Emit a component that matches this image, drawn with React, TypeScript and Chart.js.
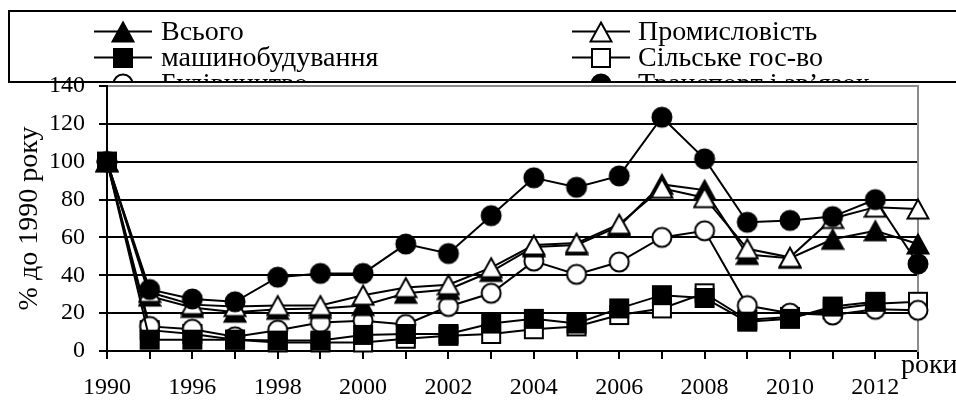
import React, { useEffect, useRef } from 'react';
import { Chart, registerables } from 'chart.js';

Chart.register(...registerables);

const years = ['1990', '1995', '1996', '1997', '1998', '1999', '2000', '2001', '2002', '2003', '2004', '2005', '2006', '2007', '2008', '2009', '2010', '2011', '2012', '2013'];
const vsogo = [100, 29, 23, 20.5, 22, 22.5, 24, 30.5, 32.5, 42, 55, 56, 66, 88, 85, 51, 49, 59, 63.5, 56.5];
const promyslovist = [100, 31, 24.5, 23.5, 24, 24, 29.5, 33.5, 35, 44, 56, 57, 67, 86, 81, 54, 49.5, 70, 76, 75];
const mashynobuduvannia = [100, 6, 6, 6, 5.5, 5.5, 8.5, 9, 9, 14.5, 17, 14.5, 22.5, 29.5, 28, 15.5, 17, 23.5, 26, null];
const silske = [100, 11, 9, 6, 4.5, 4.5, 4.5, 6.5, 8, 9, 11.5, 13, 19, 22.5, 30.5, 16.5, 18, 22, 25, 26];
const budivnytstvo = [100, 13, 11.5, 7.5, 11, 15, 16, 14, 23.5, 30.5, 47.5, 40.5, 47, 60, 63.5, 24, 20, 19, 22, 21.5];
const transport = [100, 32.5, 27.5, 26, 39, 41, 41, 56.5, 51.5, 71.5, 91.5, 86.5, 92.5, 123.5, 101.5, 68, 69, 71, 80, 46];

const seriesLabels = ['Всього', 'Промисловість', 'машинобудування', 'Сільське гос-во', 'Будівництво', 'Транспорт і зв’язок'];
const yAxisTitle = '% до 1990 року';
const xAxisTitle = 'роки';

const FONT = "'Liberation Serif', 'Times New Roman', serif";

function makeMarker(shape: string, filled: boolean): HTMLCanvasElement {
  const c = document.createElement('canvas');
  c.width = 24;
  c.height = 24;
  const g = c.getContext('2d')!;
  g.lineWidth = 2;
  g.lineJoin = 'miter';
  g.strokeStyle = '#000';
  g.fillStyle = filled ? '#000' : '#fff';
  g.beginPath();
  if (shape === 'triangle') {
    g.moveTo(12, 2.5);
    g.lineTo(22.5, 21.5);
    g.lineTo(1.5, 21.5);
    g.closePath();
  } else if (shape === 'square') {
    g.rect(3, 3, 18, 18);
  } else {
    g.arc(12, 12, 9.5, 0, Math.PI * 2);
  }
  g.fill();
  g.stroke();
  return c;
}

const legendPlugin = {
  id: 'boxLegend',
  beforeDraw(chart: any) {
    const ctx = chart.ctx;
    ctx.save();
    ctx.lineWidth = 2;
    ctx.strokeStyle = '#000';
    ctx.strokeRect(9, 11, 1000, 71);
    ctx.beginPath();
    ctx.rect(10, 12, 946, 69);
    ctx.clip();
    ctx.font = `28px ${FONT}`;
    ctx.fillStyle = '#000';
    ctx.textBaseline = 'alphabetic';
    ctx.textAlign = 'left';
    chart.data.datasets.forEach((ds: any, i: number) => {
      const col = i % 2;
      const row = Math.floor(i / 2);
      const mx = col ? 601 : 123;
      const baseline = 39.5 + row * 26;
      const my = baseline - 8;
      ctx.beginPath();
      ctx.lineWidth = 2;
      ctx.moveTo(mx - 29, my);
      ctx.lineTo(mx + 29, my);
      ctx.stroke();
      const img = ds.pointStyle as HTMLCanvasElement;
      ctx.drawImage(img, Math.round(mx - img.width / 2), Math.round(my - img.height / 2));
      ctx.fillText(ds.label, col ? 638 : 161, baseline);
    });
    ctx.restore();
  },
  afterDraw(chart: any) {
    const ctx = chart.ctx;
    const a = chart.chartArea;
    ctx.save();
    ctx.font = `28px ${FONT}`;
    ctx.fillStyle = '#000';
    ctx.textAlign = 'left';
    ctx.textBaseline = 'alphabetic';
    ctx.fillText(xAxisTitle, a.right - 17, a.bottom + 22);
    ctx.restore();
  },
};

export default function App() {
  const ref = useRef<HTMLCanvasElement | null>(null);

  useEffect(() => {
    document.body.style.margin = '0';
    document.body.style.overflow = 'hidden';
    if (!ref.current) return;

    const triF = makeMarker('triangle', true);
    const triO = makeMarker('triangle', false);
    const sqF = makeMarker('square', true);
    const sqO = makeMarker('square', false);
    const ciO = makeMarker('circle', false);
    const ciF = makeMarker('circle', true);

    const mk = (label: string, data: any[], style: HTMLCanvasElement, order: number) => ({
      label,
      data,
      pointStyle: style,
      pointRadius: 10,
      borderColor: '#000',
      borderWidth: 2,
      backgroundColor: '#000',
      tension: 0,
      clip: false as any,
      order,
    });

    const chart = new Chart(ref.current, {
      type: 'line',
      data: {
        labels: years,
        datasets: [
          mk(seriesLabels[0], vsogo, triF, 3),
          mk(seriesLabels[1], promyslovist, triO, 2),
          mk(seriesLabels[2], mashynobuduvannia, sqF, 0),
          mk(seriesLabels[3], silske, sqO, 5),
          mk(seriesLabels[4], budivnytstvo, ciO, 4),
          mk(seriesLabels[5], transport, ciF, 1),
        ],
      },
      options: {
        responsive: false,
        animation: false,
        events: [],
        layout: { padding: { top: 86, right: 38, left: 0, bottom: 0 } },
        font: { family: FONT, size: 24 } as any,
        plugins: {
          legend: { display: false },
          tooltip: { enabled: false },
          title: { display: false },
        },
        scales: {
          x: {
            type: 'category',
            offset: false,
            grid: {
              display: true,
              drawOnChartArea: false,
              drawTicks: true,
              tickLength: 8,
              color: '#000',
              lineWidth: 2,
            },
            border: { display: true, color: '#000', width: 2 },
            ticks: {
              autoSkip: false,
              maxRotation: 0,
              minRotation: 0,
              padding: 14.5,
              color: '#000',
              font: { family: FONT, size: 24 },
              callback: (_v: any, i: number) => (i % 2 === 0 && i < years.length - 1 ? years[i] : ''),
            },
            afterFit: (s: any) => {
              s.height = 50;
            },
          },
          y: {
            position: 'left',
            min: 0,
            max: 140,
            ticks: {
              stepSize: 20,
              padding: 14,
              color: '#000',
              font: { family: FONT, size: 24 },
            },
            grid: {
              display: true,
              drawOnChartArea: true,
              drawTicks: true,
              tickLength: 8,
              lineWidth: 2,
              color: (c: any) => (c.tick && c.tick.value === 140 ? '#8c8c8c' : '#000'),
              tickColor: '#000',
            },
            border: { display: true, color: '#000', width: 2 },
            title: {
              display: true,
              text: yAxisTitle,
              color: '#000',
              font: { family: FONT, size: 28 },
              padding: { top: 13, bottom: 0 },
            },
            afterFit: (s: any) => {
              s.width = 107;
            },
          },
          y2: {
            position: 'right',
            min: 0,
            max: 140,
            ticks: { display: false },
            grid: { display: true, drawOnChartArea: false, drawTicks: false },
            border: { display: true, color: '#8c8c8c', width: 2 },
            afterFit: (s: any) => {
              s.width = 0;
            },
          },
        },
      },
      plugins: [legendPlugin],
    });

    return () => chart.destroy();
  }, []);

  return (
    <div style={{ width: 956, height: 401, background: '#fff' }}>
      <canvas ref={ref} width={956} height={401} style={{ display: 'block', width: 956, height: 401 }} />
    </div>
  );
}
